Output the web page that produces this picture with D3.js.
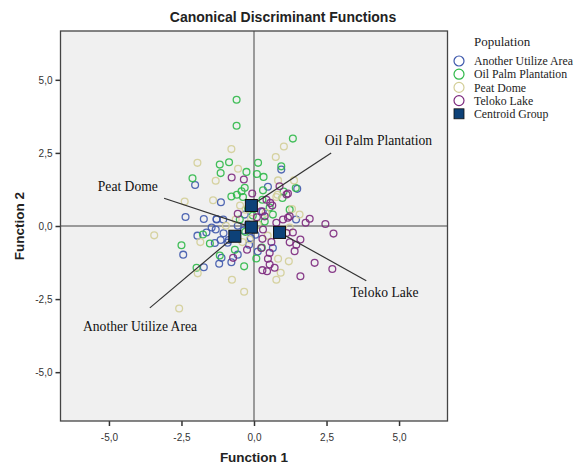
<!DOCTYPE html>
<meta charset="utf-8">
<body style="margin:0;background:#fff">
<script src="https://cdnjs.cloudflare.com/ajax/libs/d3/7.8.5/d3.min.js"></script>
<script>
// group names and colours (SPSS defaults)
var groups = ["Another Utilize Area", "Oil Palm Plantation", "Peat Dome", "Teloko Lake"];
var groupColors = ["#3e58ac", "#2eb848", "#d3ce97", "#7c287d"];

// scores: [function1, function2]
var anotherPts = [[-2.03,1.40],[0.94,1.93],[1.49,1.27],[-1.14,0.81],[-2.36,0.31],[-1.73,0.24],[-1.29,0.22],
  [-2.44,-0.98],[-1.73,-1.41],[-1.95,-0.33],[-1.64,-0.22],[-1.32,-0.12],[-1.35,-0.58],[-1.12,-1.09],
  [-0.78,-1.24],[-1.20,-1.29],[-0.17,-0.64],[-0.11,-0.41],[0.65,-0.75],[-1.29,0.24],[-1.06,0.22],
  [-1.15,-0.48],[-0.87,-0.48],[0.48,1.34],[-0.56,0.01],[-0.32,0.39],[0.30,0.49],[-1.46,-0.05],
  [-0.91,-0.57],[0.13,-0.87],[-0.56,-0.98],[-1.05,-0.25],[-0.35,-0.15],[1.45,0.22],[-0.20,0.05],
  [0.05,-0.30]];
var oilPalmPts = [[-0.60,4.32],[-0.60,3.43],[1.34,2.99],[-1.18,2.10],[-0.86,2.18],[-1.15,1.81],[-2.12,1.63],
  [0.14,2.16],[0.10,1.78],[0.33,1.68],[-0.26,1.85],[1.44,1.30],[0.98,0.96],[-0.43,1.19],[-0.59,1.07],
  [-0.78,1.01],[-0.38,0.99],[0.31,1.22],[0.29,0.90],[0.65,0.39],[-2.50,-0.66],[-1.98,-1.43],
  [-0.34,-1.38],[0.08,-1.11],[-1.76,-0.29],[0.94,2.04],[-0.32,1.31],[0.54,0.63],[1.23,0.56],
  [-0.04,0.36],[-0.49,0.22],[0.37,0.15],[-1.18,-1.01],[0.27,-0.74],[-0.66,-0.81],[-1.52,-0.60],[1.02,1.18],
  [-0.20,0.60],[0.15,0.05],[-0.30,-0.20]];
var peatDomePts = [[-0.78,2.63],[1.03,2.72],[0.75,2.36],[-1.95,2.16],[-1.32,1.55],[-0.55,1.96],[0.83,1.56],
  [1.38,1.56],[-2.39,0.84],[-1.41,0.88],[0.77,0.99],[1.31,0.58],[-3.44,-0.32],[-2.58,-2.82],
  [-1.94,-1.62],[-0.76,-1.84],[-0.34,-2.25],[0.77,-1.84],[0.92,-1.60],[1.20,-1.21],[0.83,-1.12],
  [-0.29,0.56],[0.13,0.05],[-0.63,0.22],[0.47,-0.33],[-0.15,-0.46],[-0.97,0.01],[1.57,0.39],
  [1.23,-0.05],[-0.48,0.70],[0.81,1.07],[-1.85,-0.55],[-0.10,0.25],[0.40,0.45],[-0.40,-0.55]];
var telokoPts = [[-0.77,1.66],[0.88,1.36],[1.17,1.11],[0.43,0.90],[0.63,0.70],[1.92,0.25],[1.78,0.11],
  [2.46,0.07],[2.74,-0.26],[1.17,0.28],[-0.06,1.11],[0.29,-0.44],[0.25,-0.75],[-0.24,-0.81],
  [-0.72,-1.09],[0.54,-0.92],[0.48,-1.12],[0.54,-1.32],[0.71,-1.43],[0.29,-1.51],[1.23,-0.56],
  [1.46,-0.64],[1.40,-0.86],[1.60,-0.46],[2.09,-1.26],[2.70,-1.47],[1.60,-1.72],[1.34,-0.22],
  [1.12,1.08],[0.56,0.79],[0.25,0.50],[0.37,0.33],[0.77,0.11],[1.00,0.22],[1.23,0.33],
  [1.12,-0.24],[0.31,-0.12],[-0.35,1.59],[-0.56,0.42],[0.45,-1.55],[0.10,0.30],[0.60,-0.55]];
var groupPts = [anotherPts, oilPalmPts, peatDomePts, telokoPts];

// group centroids
var centroids = [[-0.66,-0.35],[-0.09,0.70],[-0.09,-0.04],[0.88,-0.22]];
// label position and where its pointer line starts
var labelPos = [[-3.93,-3.44],[4.29,2.92],[-4.35,1.35],[4.50,-2.28]];
var lineStart = [[-3.59,-2.80],[2.66,2.50],[-3.10,0.95],[3.87,-1.87]];

var tickVals = [-5, -2.5, 0, 2.5, 5];

var width = 579, height = 465;
var svg = d3.select("body").append("svg")
  .attr("width", width)
  .attr("height", height);

var x = d3.scaleLinear().domain([-6.67, 6.67]).range([60.5, 447.5]);
var y = d3.scaleLinear().domain([-6.67, 6.67]).range([421, 31]);

var fmt = function(v) { return d3.format(".1f")(v).replace(".", ",").replace("−", "-"); };

// plot background
svg.append("rect")
  .attr("x", x.range()[0]).attr("y", y.range()[1])
  .attr("width", x.range()[1] - x.range()[0])
  .attr("height", y.range()[0] - y.range()[1])
  .attr("fill", "#f0f0f0");

// zero reference lines
svg.append("line")
  .attr("x1", x(0)).attr("x2", x(0)).attr("y1", y.range()[1]).attr("y2", y.range()[0])
  .attr("stroke", "#444").attr("stroke-width", 1);
svg.append("line")
  .attr("x1", x.range()[0]).attr("x2", x.range()[1]).attr("y1", y(0)).attr("y2", y(0))
  .attr("stroke", "#444").attr("stroke-width", 1);

// axes
var xAxis = svg.append("g")
  .attr("transform", "translate(0," + y.range()[0] + ")")
  .call(d3.axisBottom(x).tickValues(tickVals).tickFormat(fmt).tickSize(5).tickSizeOuter(0));
var yAxis = svg.append("g")
  .attr("transform", "translate(" + x.range()[0] + ",0)")
  .call(d3.axisLeft(y).tickValues(tickVals).tickFormat(fmt).tickSize(5).tickSizeOuter(0));
[xAxis, yAxis].forEach(function(a) {
  a.select(".domain").remove();
  a.selectAll("line").attr("stroke", "#333").attr("stroke-width", 1.5);
  a.selectAll("text").attr("fill", "#333").style("font-family", "Liberation Sans, Arial")
    .style("font-size", "10px");
});
xAxis.selectAll("text").attr("dy", "1.2em");

// frame
svg.append("rect")
  .attr("x", x.range()[0]).attr("y", y.range()[1])
  .attr("width", x.range()[1] - x.range()[0])
  .attr("height", y.range()[0] - y.range()[1])
  .attr("fill", "none").attr("stroke", "#444").attr("stroke-width", 1.3);

// scatter points
groupPts.forEach(function(pts, i) {
  svg.append("g").selectAll("circle")
    .data(pts)
    .enter().append("circle")
    .attr("cx", function(d) { return x(d[0]); })
    .attr("cy", function(d) { return y(d[1]); })
    .attr("r", 3.4)
    .attr("fill", "none")
    .attr("stroke", groupColors[i])
    .attr("stroke-width", 1.3)
    .attr("stroke-opacity", 0.9);
});

// pointer lines
svg.append("g").selectAll("line")
  .data(groups)
  .enter().append("line")
  .attr("x1", function(d, i) { return x(lineStart[i][0]); })
  .attr("y1", function(d, i) { return y(lineStart[i][1]); })
  .attr("x2", function(d, i) { return x(centroids[i][0]); })
  .attr("y2", function(d, i) { return y(centroids[i][1]); })
  .attr("stroke", "#333").attr("stroke-width", 1.2);

// centroids
svg.append("g").selectAll("rect")
  .data(centroids)
  .enter().append("rect")
  .attr("x", function(d) { return x(d[0]) - 6; })
  .attr("y", function(d) { return y(d[1]) - 6; })
  .attr("width", 12).attr("height", 12)
  .attr("fill", "#0d4178").attr("stroke", "#111").attr("stroke-width", 1);

// annotation labels
var labels = svg.append("g").selectAll("g")
  .data(groups)
  .enter().append("g")
  .attr("transform", function(d, i) { return "translate(" + x(labelPos[i][0]) + "," + y(labelPos[i][1]) + ")"; });
labels.append("text")
  .attr("text-anchor", "middle")
  .attr("dy", "0.35em")
  .style("font-family", "Liberation Serif, serif")
  .style("font-size", "13.6px")
  .attr("fill", "#111")
  .text(function(d) { return d; });

// title and axis titles
svg.append("text")
  .attr("x", 283).attr("y", 22)
  .attr("text-anchor", "middle")
  .style("font-family", "Liberation Sans, Arial").style("font-weight", "bold").style("font-size", "14px")
  .attr("fill", "#222")
  .text("Canonical Discriminant Functions");
svg.append("text")
  .attr("x", x(0)).attr("y", 462)
  .attr("text-anchor", "middle")
  .style("font-family", "Liberation Sans, Arial").style("font-weight", "bold").style("font-size", "13.5px")
  .attr("fill", "#222")
  .text("Function 1");
svg.append("text")
  .attr("transform", "translate(24," + y(0) + ") rotate(-90)")
  .attr("text-anchor", "middle")
  .style("font-family", "Liberation Sans, Arial").style("font-weight", "bold").style("font-size", "13.5px")
  .attr("fill", "#222")
  .text("Function 2");

// legend
var legend = svg.append("g").attr("transform", "translate(459,0)");
legend.append("text")
  .attr("x", 15).attr("y", 46)
  .style("font-family", "Liberation Serif, serif").style("font-size", "13px")
  .attr("fill", "#222")
  .text("Population");
var items = legend.selectAll("g.item")
  .data(groups.concat(["Centroid Group"]))
  .enter().append("g")
  .attr("class", "item")
  .attr("transform", function(d, i) { return "translate(0," + (61 + i * 13.2) + ")"; });
items.filter(function(d, i) { return i < 4; }).append("circle")
  .attr("r", 5)
  .attr("fill", "none")
  .attr("stroke", function(d, i) { return groupColors[i]; })
  .attr("stroke-width", 1.2);
items.filter(function(d, i) { return i == 4; }).append("rect")
  .attr("x", -5).attr("y", -5).attr("width", 10).attr("height", 10)
  .attr("fill", "#0d4178").attr("stroke", "#111").attr("stroke-width", 0.8);
items.append("text")
  .attr("x", 15).attr("dy", "0.35em")
  .style("font-family", "Liberation Serif, serif").style("font-size", "11.8px")
  .attr("fill", "#222")
  .text(function(d) { return d; });
</script>
</body>
